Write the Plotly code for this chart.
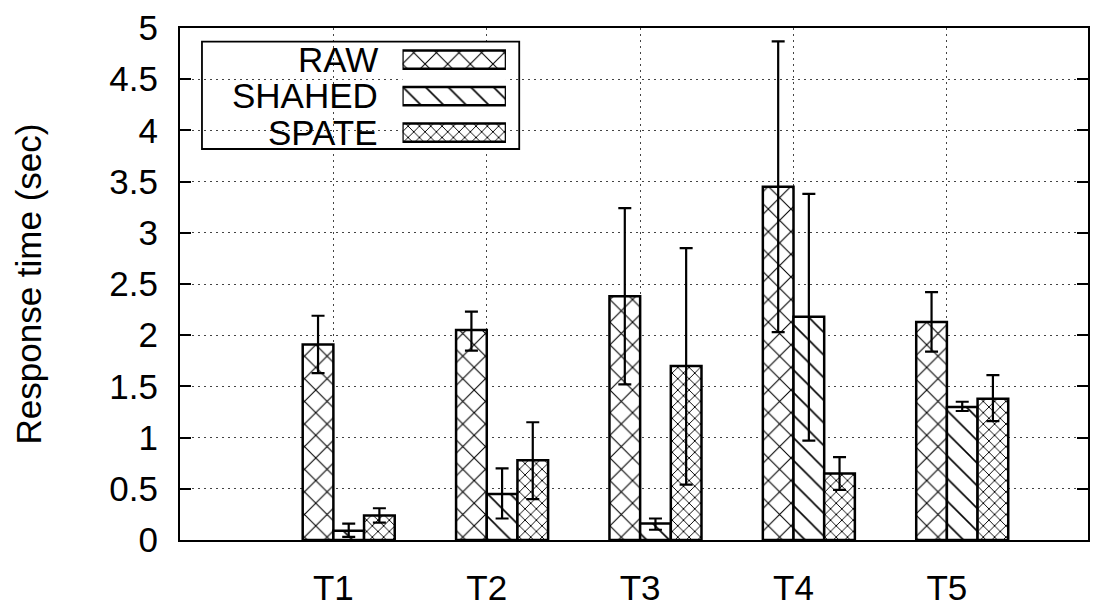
import plotly.graph_objects as go

# ---- data ----
categories = ["T1", "T2", "T3", "T4", "T5"]
series_names = ["RAW", "SHAHED", "SPATE"]

raw_mean = [1.91, 2.05, 2.38, 3.45, 2.13]
raw_hi = [2.19, 2.23, 3.24, 4.87, 2.42]
raw_lo = [1.63, 1.85, 1.52, 2.03, 1.84]

shahed_mean = [0.09, 0.45, 0.16, 2.18, 1.30]
shahed_hi = [0.16, 0.70, 0.21, 3.38, 1.35]
shahed_lo = [0.03, 0.21, 0.10, 0.97, 1.26]

spate_mean = [0.24, 0.78, 1.70, 0.65, 1.38]
spate_hi = [0.31, 1.15, 2.85, 0.81, 1.61]
spate_lo = [0.17, 0.40, 0.54, 0.49, 1.16]

y_ticks = [0, 0.5, 1, 1.5, 2, 2.5, 3, 3.5, 4, 4.5, 5]
y_tick_labels = ["0", "0.5", "1", "1.5", "2", "2.5", "3", "3.5", "4", "4.5", "5"]

# ---- style ----
FONT = "Liberation Sans, Arial, sans-serif"
FS = 35
patterns = [
    dict(shape="x", size=16, solidity=0.13),
    dict(shape="\\", size=16, solidity=0.10),
    dict(shape="x", size=8, solidity=0.22),
]
offsets = [-0.2, 0.0, 0.2]
BW = 0.2

means = [raw_mean, shahed_mean, spate_mean]
his = [raw_hi, shahed_hi, spate_hi]
los = [raw_lo, shahed_lo, spate_lo]

fig = go.Figure()
for k, name in enumerate(series_names):
    m = means[k]
    plus = [h - v for h, v in zip(his[k], m)]
    minus = [v - l for l, v in zip(los[k], m)]
    pat = dict(patterns[k], fgcolor="black", bgcolor="white", fgopacity=1)
    fig.add_trace(go.Bar(
        x=categories, y=m, name=name, width=BW, offset=offsets[k],
        marker=dict(color="white", pattern=pat, line=dict(color="black", width=2.5)),
        error_y=dict(type="data", symmetric=False, array=plus, arrayminus=minus,
                     color="black", thickness=2.2, width=6.5),
        showlegend=False, xaxis="x", yaxis="y",
    ))

# ---- hand-built legend (text on the left, swatch on the right) ----
row_y = [0.9386, 0.8677, 0.7958]  # paper y of legend rows
for k, name in enumerate(series_names):
    pat = dict(patterns[k], fgcolor="black", bgcolor="white", fgopacity=1)
    fig.add_trace(go.Bar(
        x=[1], y=[k], orientation="h", width=0.5, base=0,
        marker=dict(color="white", pattern=pat, line=dict(color="black", width=2.5)),
        showlegend=False, hoverinfo="skip", xaxis="x2", yaxis="y2",
    ))
    fig.add_annotation(x=0.2198, y=row_y[k], xref="paper", yref="paper", text=name,
                       showarrow=False, xanchor="right", yanchor="middle",
                       font=dict(family=FONT, size=FS, color="black"))

box = dict(type="rect", xref="paper", yref="paper",
           x0=0.0242, x1=0.3736, y0=0.7637, y1=0.9735)
fig.add_shape(**box, line=dict(width=0), fillcolor="white", layer="between")
fig.add_shape(**box, line=dict(color="black", width=1.8), fillcolor="rgba(0,0,0,0)",
              layer="above")

grid = dict(showgrid=True, gridcolor="#444444", gridwidth=1, griddash="2px,4px")

fig.update_layout(
    width=1093, height=610,
    margin=dict(l=180, r=3, t=28, b=53),
    paper_bgcolor="white", plot_bgcolor="white",
    barmode="overlay",
    font=dict(family=FONT, size=FS, color="black"),
    xaxis=dict(
        type="category", categoryorder="array", categoryarray=categories,
        range=[-1, 4.92], tickvals=categories, ticktext=categories,
        ticks="", showline=True, linecolor="black", linewidth=2, mirror=True,
        zeroline=False, tickfont=dict(size=FS), ticklabelstandoff=16, **grid,
    ),
    yaxis=dict(
        range=[0, 5], tickvals=y_ticks, ticktext=y_tick_labels,
        ticks="inside", ticklen=11, tickwidth=1.8, tickcolor="black",
        showline=True, linecolor="black", linewidth=2, mirror="ticks",
        zeroline=False, tickfont=dict(size=FS), ticklabelstandoff=13,
        title=dict(text="Response time (sec)", font=dict(size=FS), standoff=57),
        **grid,
    ),
    xaxis2=dict(domain=[0.245, 0.359], anchor="y2", range=[0, 1], visible=False,
                fixedrange=True),
    yaxis2=dict(domain=[0.760, 0.974], anchor="x2", range=[2.5, -0.5], visible=False,
                fixedrange=True),
)

fig.write_html("out.html")
